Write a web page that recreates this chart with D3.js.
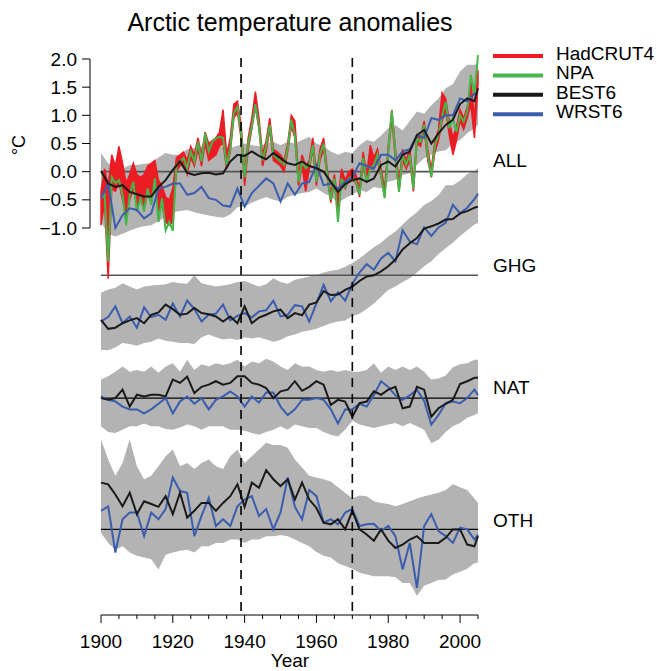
<!DOCTYPE html>
<html lang="en">
<head>
    <meta charset="UTF-8">
    <title>Arctic temperature anomalies</title>
    <script src="https://d3js.org/d3.v7.min.js"></script>
    <style>
        body { margin: 0; background: #fff; }
        svg text { font-family: "Liberation Sans", Arial, Helvetica, sans-serif; fill: #000; }
    </style>
</head>
<body>
<svg width="657" height="671"></svg>
<script>
// observations, yearly 1900-2005
var obsYears = d3.range(1900, 2006);
var npa = [
    -0.47, -0.41, -1.60, -0.10, -0.20, -0.15, -0.41, -0.95, -0.41, -0.18,
    -0.71, -0.47, -0.71, -0.30, -0.59, -0.12, -0.89, -0.47, -1.04, -0.89,
    -1.05, 0.12, 0.18, 0.24, 0.06, 0.36, 0.18, 0.53, 0.18, 0.68,
    0.36, 0.53, 0.59, 0.62, 0.60, 0.12, 0.41, 1.04, 1.15, 0.70,
    -0.10, 0.50, 0.80, 1.20, 0.80, 0.20, 0.45, 0.83, 0.30, 0.24,
    0.18, 0.12, 0.41, 0.92, 0.65, -0.18, 0.18, 0.06, 0.12, 0.47,
    -0.18, 0.30, 0.50, -0.06, -0.50, -0.12, -0.89, -0.12, -0.27, -0.12,
    -0.10, -0.18, -0.41, 0.24, -0.18, 0.06, 0.12, 0.30, -0.06, -0.47,
    0.36, 1.09, 0.30, -0.36, 0.30, 0.12, 0.30, -0.30, 0.59, 0.53,
    0.83, 0.30, -0.09, 0.47, 0.65, 0.98, 1.24, 0.77, 0.95, 0.71,
    1.00, 0.89, 1.07, 1.72, 1.38, 2.07
];
var hadLo = [
    -0.95, -0.55, -1.90, -0.30, -0.35, -0.20, -0.50, -0.80, -0.50, -0.30,
    -0.60, -0.50, -0.65, -0.40, -0.55, -0.20, -0.70, -0.60, -0.90, -0.95,
    -0.90, 0.00, 0.10, 0.15, -0.05, 0.25, 0.10, 0.40, 0.10, 0.50,
    0.20, 0.25, 0.30, 0.45, 0.50, 0.05, 0.35, 0.95, 1.05, 0.60,
    -0.25, 0.40, 0.75, 1.15, 0.75, 0.10, 0.35, 0.75, 0.20, 0.15,
    0.10, 0.00, 0.35, 0.80, 0.60, -0.25, 0.10, -0.35, 0.05, 0.40,
    -0.25, 0.20, 0.40, -0.10, -0.55, -0.20, -0.70, -0.15, -0.30, -0.15,
    -0.15, -0.20, -0.45, 0.15, -0.20, 0.05, 0.05, 0.20, -0.10, -0.45,
    0.30, 0.95, 0.20, -0.35, 0.20, 0.05, 0.20, -0.35, 0.50, 0.45,
    0.75, 0.20, -0.10, 0.35, 0.55, 0.90, 1.10, 0.65, 0.30, 0.55,
    0.90, 0.75, 0.95, 1.20, 0.60, 1.55
];
var hadHi = [
    -0.35, 0.05, -0.25, 0.30, 0.10, 0.45, 0.15, -0.20, -0.05, 0.15,
    -0.05, -0.10, -0.05, 0.10, 0.15, 0.20, -0.15, -0.25, -0.45, -0.50,
    -0.30, 0.25, 0.30, 0.35, 0.20, 0.45, 0.30, 0.60, 0.30, 0.70,
    0.50, 0.55, 0.60, 0.70, 1.10, 0.30, 0.60, 1.20, 1.25, 0.85,
    0.00, 0.60, 0.95, 1.42, 0.95, 0.30, 0.55, 0.95, 0.40, 0.35,
    0.30, 0.20, 0.50, 1.00, 0.90, -0.05, 0.30, 0.10, 0.20, 0.60,
    -0.05, 0.40, 0.60, 0.05, -0.40, -0.05, -0.50, 0.05, -0.15, 0.00,
    0.05, -0.05, -0.30, 0.35, -0.05, 0.47, 0.25, 0.40, 0.05, -0.30,
    0.45, 1.10, 0.40, -0.20, 0.40, 0.20, 0.40, -0.20, 0.65, 0.60,
    0.90, 0.40, 0.05, 0.55, 0.75, 1.40, 1.30, 0.90, 0.60, 0.80,
    1.10, 0.95, 1.15, 1.60, 0.95, 1.80
];

// model ensembles, every second year + 2005
var modelYears = d3.range(1900, 2005, 2).concat([2005]);

var allHi = [0.33, 0.15, 0.10, 0.05, 0.12, 0.12, 0.14, 0.15, 0.25, 0.33,
    0.30, 0.30, 0.40, 0.42, 0.45, 0.50, 0.45, 0.45, 0.42, 0.46,
    0.50, 0.47, 0.45, 0.50, 0.53, 0.47, 0.53, 0.50, 0.56, 0.62,
    0.50, 0.45, 0.36, 0.30, 0.35, 0.33, 0.47, 0.56, 0.53, 0.64,
    0.77, 0.83, 0.73, 0.90, 1.07, 1.03, 1.18, 1.30, 1.48, 1.55,
    1.78, 1.90, 1.90, 1.92];
var allLo = [-0.90, -1.10, -1.15, -1.10, -1.05, -1.00, -0.97, -0.95, -0.88, -0.80,
    -0.72, -0.70, -0.68, -0.72, -0.75, -0.78, -0.80, -0.82, -0.76, -0.63,
    -0.62, -0.55, -0.50, -0.45, -0.50, -0.53, -0.45, -0.41, -0.38, -0.36,
    -0.30, -0.38, -0.44, -0.55, -0.47, -0.41, -0.33, -0.36, -0.27, -0.30,
    -0.18, -0.15, -0.06, -0.03, 0.12, 0.24, 0.30, 0.36, 0.38, 0.50,
    0.56, 0.68, 0.77, 0.83];
var allBest = [0.01, -0.21, -0.27, -0.24, -0.36, -0.40, -0.44, -0.44, -0.27, -0.15,
    0.03, 0.18, -0.02, -0.06, -0.03, -0.02, -0.05, -0.03, 0.18, 0.30,
    0.28, 0.36, 0.28, 0.22, 0.33, 0.24, 0.15, 0.12, 0.18, 0.10,
    0.06, 0.00, -0.18, -0.36, -0.22, -0.15, -0.12, -0.18, -0.12, 0.12,
    0.18, 0.09, 0.30, 0.36, 0.65, 0.74, 0.50, 0.68, 0.83, 0.92,
    1.20, 1.30, 1.25, 1.48];
var allWrst = [-0.47, -0.21, -1.00, -0.77, -0.65, -0.68, -0.83, -0.74, -0.30, -0.27,
    -0.21, -0.21, -0.41, -0.38, -0.27, -0.47, -0.50, -0.60, -0.62, -0.30,
    -0.62, -0.38, -0.25, -0.12, -0.21, -0.53, -0.21, -0.41, -0.21, -0.18,
    0.12, -0.24, -0.21, -0.30, -0.18, -0.10, 0.15, 0.10, 0.05, 0.30,
    0.30, 0.20, 0.36, 0.40, 0.65, 0.60, 0.95, 0.92, 1.00, 1.00,
    1.30, 1.25, 1.38, 1.40];

var ghgHi = [-0.31, -0.25, -0.22, -0.14, -0.20, -0.25, -0.20, -0.18, -0.17, -0.16,
    -0.12, -0.14, -0.15, 0.00, -0.14, -0.17, -0.20, -0.18, -0.16, -0.12,
    -0.10, -0.15, -0.20, -0.16, -0.05, -0.12, -0.15, -0.08, -0.05, -0.02,
    0.00, 0.05, 0.08, 0.10, 0.15, 0.22, 0.30, 0.40, 0.50, 0.58,
    0.69, 0.78, 0.90, 1.02, 1.12, 1.25, 1.32, 1.42, 1.60, 1.60,
    1.68, 1.80, 1.85, 1.90];
var ghgLo = [-1.32, -1.33, -1.28, -1.20, -1.22, -1.25, -1.20, -1.18, -1.12, -1.16,
    -1.18, -1.20, -1.20, -1.22, -1.10, -1.05, -1.10, -1.14, -1.12, -1.15,
    -1.10, -1.12, -1.10, -1.14, -1.18, -1.15, -1.08, -1.05, -1.00, -0.98,
    -0.95, -0.90, -0.85, -0.82, -0.80, -0.72, -0.68, -0.60, -0.50, -0.38,
    -0.26, -0.20, -0.12, -0.05, 0.05, 0.16, 0.25, 0.38, 0.48, 0.58,
    0.70, 0.80, 0.90, 0.93];
var ghgBest = [-0.79, -0.95, -0.93, -0.85, -0.80, -0.76, -0.85, -0.70, -0.66, -0.52,
    -0.60, -0.70, -0.68, -0.58, -0.67, -0.69, -0.73, -0.82, -0.73, -0.85,
    -0.55, -0.85, -0.75, -0.70, -0.64, -0.61, -0.76, -0.67, -0.71, -0.52,
    -0.48, -0.28, -0.35, -0.34, -0.26, -0.20, -0.10, -0.02, 0.00, 0.07,
    0.16, 0.28, 0.46, 0.57, 0.66, 0.83, 0.87, 0.92, 0.99, 1.00,
    1.10, 1.14, 1.20, 1.22];
var ghgWrst = [-0.82, -0.74, -0.55, -0.85, -0.73, -0.93, -0.57, -0.74, -0.70, -0.79,
    -0.50, -0.73, -0.45, -0.60, -0.82, -0.70, -0.68, -0.52, -0.80, -0.72,
    -0.67, -0.75, -0.64, -0.62, -0.45, -0.73, -0.70, -0.53, -0.55, -0.82,
    -0.50, -0.17, -0.46, -0.30, -0.45, -0.15, 0.05, 0.20, 0.10, 0.30,
    0.40, 0.25, 0.80, 0.60, 0.55, 0.85, 0.70, 0.85, 0.93, 1.25,
    1.10, 1.20, 1.35, 1.45];

var natHi = [0.33, 0.39, 0.47, 0.56, 0.47, 0.50, 0.47, 0.56, 0.45, 0.56,
    0.62, 0.47, 0.68, 0.50, 0.60, 0.56, 0.62, 0.59, 0.62, 0.68,
    0.56, 0.65, 0.62, 0.70, 0.65, 0.56, 0.50, 0.62, 0.56, 0.56,
    0.50, 0.47, 0.50, 0.47, 0.50, 0.47, 0.47, 0.50, 0.62, 0.45,
    0.56, 0.50, 0.56, 0.50, 0.56, 0.47, 0.33, 0.35, 0.40, 0.55,
    0.60, 0.62, 0.68, 0.68];
var natLo = [-0.50, -0.60, -0.62, -0.56, -0.50, -0.50, -0.45, -0.50, -0.50, -0.55,
    -0.56, -0.52, -0.47, -0.50, -0.56, -0.50, -0.50, -0.50, -0.56, -0.56,
    -0.58, -0.62, -0.65, -0.60, -0.56, -0.50, -0.56, -0.47, -0.50, -0.53,
    -0.53, -0.60, -0.65, -0.68, -0.56, -0.40, -0.47, -0.50, -0.53, -0.50,
    -0.47, -0.44, -0.50, -0.44, -0.50, -0.56, -0.80, -0.74, -0.60, -0.50,
    -0.44, -0.35, -0.30, -0.27];
var natBest = [0.00, -0.03, 0.00, 0.15, -0.15, 0.06, 0.03, 0.06, 0.06, 0.03,
    0.33, 0.27, 0.38, 0.09, 0.20, 0.24, 0.30, 0.24, 0.27, 0.39,
    0.39, 0.27, 0.24, 0.18, 0.00, 0.12, 0.15, 0.30, 0.13, 0.20,
    0.30, 0.24, -0.12, -0.03, -0.06, -0.33, -0.09, -0.06, 0.12, 0.06,
    0.15, 0.20, -0.18, -0.15, 0.20, 0.15, -0.33, -0.18, -0.10, -0.03,
    0.25, 0.30, 0.36, 0.36];
var natWrst = [0.03, -0.03, -0.06, -0.15, -0.20, -0.20, -0.27, -0.20, -0.10, 0.00,
    -0.27, -0.06, 0.03, -0.10, 0.00, -0.20, -0.03, 0.03, 0.12, 0.03,
    -0.15, 0.03, -0.08, 0.10, 0.10, -0.15, -0.30, -0.20, -0.03, -0.03,
    0.00, -0.03, -0.20, -0.45, -0.20, -0.20, -0.10, -0.15, 0.05, 0.30,
    0.20, 0.05, -0.03, 0.05, 0.15, -0.05, -0.47, -0.30, -0.09, -0.06,
    -0.09, 0.00, 0.15, 0.05];

var othHi = [1.60, 1.24, 0.95, 1.18, 1.60, 1.12, 0.89, 0.95, 1.12, 1.30,
    1.42, 1.12, 1.18, 1.07, 1.18, 1.24, 1.12, 1.07, 1.30, 1.42,
    1.18, 1.30, 1.42, 1.54, 1.50, 1.50, 1.45, 1.24, 1.10, 0.95,
    0.92, 0.89, 0.85, 0.75, 0.65, 0.55, 0.60, 0.59, 0.50, 0.47,
    0.45, 0.41, 0.45, 0.50, 0.55, 0.59, 0.62, 0.65, 0.70, 0.80,
    0.75, 0.70, 0.55, 0.47];
var othLo = [-0.06, -0.24, -0.36, -0.30, -0.41, -0.47, -0.50, -0.53, -0.71, -0.45,
    -0.41, -0.38, -0.36, -0.41, -0.30, -0.30, -0.24, -0.24, -0.18, -0.18,
    -0.24, -0.18, -0.18, -0.12, -0.12, -0.10, -0.12, -0.18, -0.24, -0.30,
    -0.40, -0.47, -0.50, -0.60, -0.65, -0.70, -0.77, -0.80, -0.83, -0.83,
    -0.83, -0.85, -0.95, -0.95, -1.18, -1.00, -0.95, -0.90, -0.89, -0.80,
    -0.75, -0.70, -0.60, -0.59];
var othBest = [0.83, 0.80, 0.62, 0.41, 0.65, 0.27, 0.50, 0.45, 0.40, 0.59,
    0.27, 0.65, 0.21, 0.33, 0.47, 0.47, 0.33, 0.47, 0.59, 0.80,
    0.40, 0.83, 0.74, 1.05, 0.89, 0.77, 0.89, 0.53, 0.83, 0.53,
    0.38, 0.12, 0.09, 0.18, 0.00, 0.33, 0.00, -0.09, -0.20, 0.00,
    -0.20, -0.33, -0.27, -0.18, -0.12, -0.24, -0.24, -0.24, -0.15, 0.00,
    0.00, -0.27, -0.30, -0.12];
var othWrst = [0.33, 0.41, -0.41, 0.18, 0.30, 0.30, -0.12, 0.30, 0.18, 0.36,
    0.92, 0.68, 0.65, -0.12, 0.24, 0.56, 0.06, 0.18, 0.06, 0.41,
    0.53, 0.59, 0.24, 0.36, 0.00, 0.30, 0.92, 0.40, 0.18, 0.70,
    0.59, 0.12, 0.18, 0.09, 0.30, 0.36, 0.06, 0.09, 0.10, -0.03,
    0.06, -0.12, -0.71, -0.24, -1.04, 0.06, 0.27, -0.03, -0.12, -0.24,
    0.03, 0.00, -0.18, -0.09];

var panelNames = ["ALL", "GHG", "NAT", "OTH"];
var yTicks = [2.0, 1.5, 1.0, 0.5, 0.0, -0.5, -1.0];
var xTicks = [1900, 1920, 1940, 1960, 1980, 2000];
var legendNames = ["HadCRUT4", "NPA", "BEST6", "WRST6"];
var dashYears = [1939, 1970];

// layout
var svg = d3.select("svg");
var x = d3.scaleLinear().domain([1900, 2005]).range([101, 478]);
var y = d3.scaleLinear().domain([-1, 2]).range([228, 59]);
var shift = { ALL: 0, GHG: -1.84, NAT: -4.02, OTH: -6.35 };
var labelY = { ALL: 167, GHG: 272, NAT: 394, OTH: 527 };

var colRed = "#ec1c24", colGreen = "#45b649", colBlack = "#1a1a1a", colBlue = "#3a5dae", colGray = "#b3b3b3";

var panels = [
    { name: "ALL", hi: allHi, lo: allLo, best: allBest, wrst: allWrst },
    { name: "GHG", hi: ghgHi, lo: ghgLo, best: ghgBest, wrst: ghgWrst },
    { name: "NAT", hi: natHi, lo: natLo, best: natBest, wrst: natWrst },
    { name: "OTH", hi: othHi, lo: othLo, best: othBest, wrst: othWrst }
];

function band(years, lo, hi, off) {
    return d3.area()
        .x(function(d, i) { return x(years[i]); })
        .y0(function(d, i) { return y(lo[i] + off); })
        .y1(function(d, i) { return y(hi[i] + off); })(lo);
}
function line(years, vals, off) {
    return d3.line()
        .x(function(d, i) { return x(years[i]); })
        .y(function(d) { return y(d + off); })(vals);
}

// gray spread bands
panels.forEach(function(p) {
    svg.append("path").attr("d", band(modelYears, p.lo, p.hi, shift[p.name]))
        .attr("fill", colGray);
});

// zero lines
panels.forEach(function(p, i) {
    svg.append("line")
        .attr("x1", x(1900)).attr("x2", x(2005))
        .attr("y1", y(shift[p.name])).attr("y2", y(shift[p.name]))
        .attr("stroke", i < 2 ? "#555" : "#000")
        .attr("stroke-width", i < 2 ? 1.6 : 1.2);
});

// observations in ALL panel
svg.append("path").attr("d", band(obsYears, hadLo, hadHi, 0))
    .attr("fill", colRed).attr("stroke", colRed).attr("stroke-width", 1.5);
svg.append("path").attr("d", line(obsYears, npa, 0))
    .attr("fill", "none").attr("stroke", colGreen).attr("stroke-width", 2);

// model lines
panels.forEach(function(p) {
    svg.append("path").attr("d", line(modelYears, p.wrst, shift[p.name]))
        .attr("fill", "none").attr("stroke", colBlue).attr("stroke-width", 2);
    svg.append("path").attr("d", line(modelYears, p.best, shift[p.name]))
        .attr("fill", "none").attr("stroke", colBlack).attr("stroke-width", 2);
    svg.append("text").attr("x", 493).attr("y", labelY[p.name])
        .style("font-size", "19px").text(p.name);
});

// dashed lines
dashYears.forEach(function(yr) {
    svg.append("line")
        .attr("x1", x(yr)).attr("x2", x(yr))
        .attr("y1", 58).attr("y2", 615)
        .attr("stroke", "#000").attr("stroke-width", 1.6)
        .attr("stroke-dasharray", "9,7");
});

// y axis
var yAxis = svg.append("g");
yAxis.append("line").attr("x1", 90).attr("x2", 90)
    .attr("y1", y(2)).attr("y2", y(-1)).attr("stroke", "#000");
yTicks.forEach(function(t) {
    yAxis.append("line").attr("x1", 82).attr("x2", 90)
        .attr("y1", y(t)).attr("y2", y(t)).attr("stroke", "#000");
    yAxis.append("text").attr("x", 77).attr("y", y(t) + 6.5)
        .attr("text-anchor", "end").style("font-size", "19px")
        .text(d3.format(".1f")(t));
});
svg.append("text")
    .attr("transform", "translate(25,145) rotate(-90)")
    .attr("text-anchor", "middle").style("font-size", "18px")
    .text("°C");

// x axis
var xAxis = svg.append("g");
xAxis.append("line").attr("x1", x(1900)).attr("x2", x(2005))
    .attr("y1", 615).attr("y2", 615).attr("stroke", "#000");
d3.range(1900, 2006, 5).forEach(function(t) {
    var major = t % 20 === 0;
    xAxis.append("line").attr("x1", x(t)).attr("x2", x(t))
        .attr("y1", 615).attr("y2", major ? 623 : 619).attr("stroke", "#000");
});
xTicks.forEach(function(t) {
    xAxis.append("text").attr("x", x(t)).attr("y", 648)
        .attr("text-anchor", "middle").style("font-size", "19px").text(t);
});
svg.append("text").attr("x", 290).attr("y", 667)
    .attr("text-anchor", "middle").style("font-size", "19px").text("Year");

// title
svg.append("text").attr("x", 290).attr("y", 31)
    .attr("text-anchor", "middle").style("font-size", "25px")
    .text("Arctic temperature anomalies");

// legend
var legendCols = [colRed, colGreen, colBlack, colBlue];
legendNames.forEach(function(n, i) {
    var ly = 56 + i * 19.4;
    svg.append("line").attr("x1", 493).attr("x2", 543)
        .attr("y1", ly).attr("y2", ly)
        .attr("stroke", legendCols[i]).attr("stroke-width", 4);
    svg.append("text").attr("x", 556).attr("y", ly + 4)
        .style("font-size", "19px").text(n);
});
</script>
</body>
</html>
